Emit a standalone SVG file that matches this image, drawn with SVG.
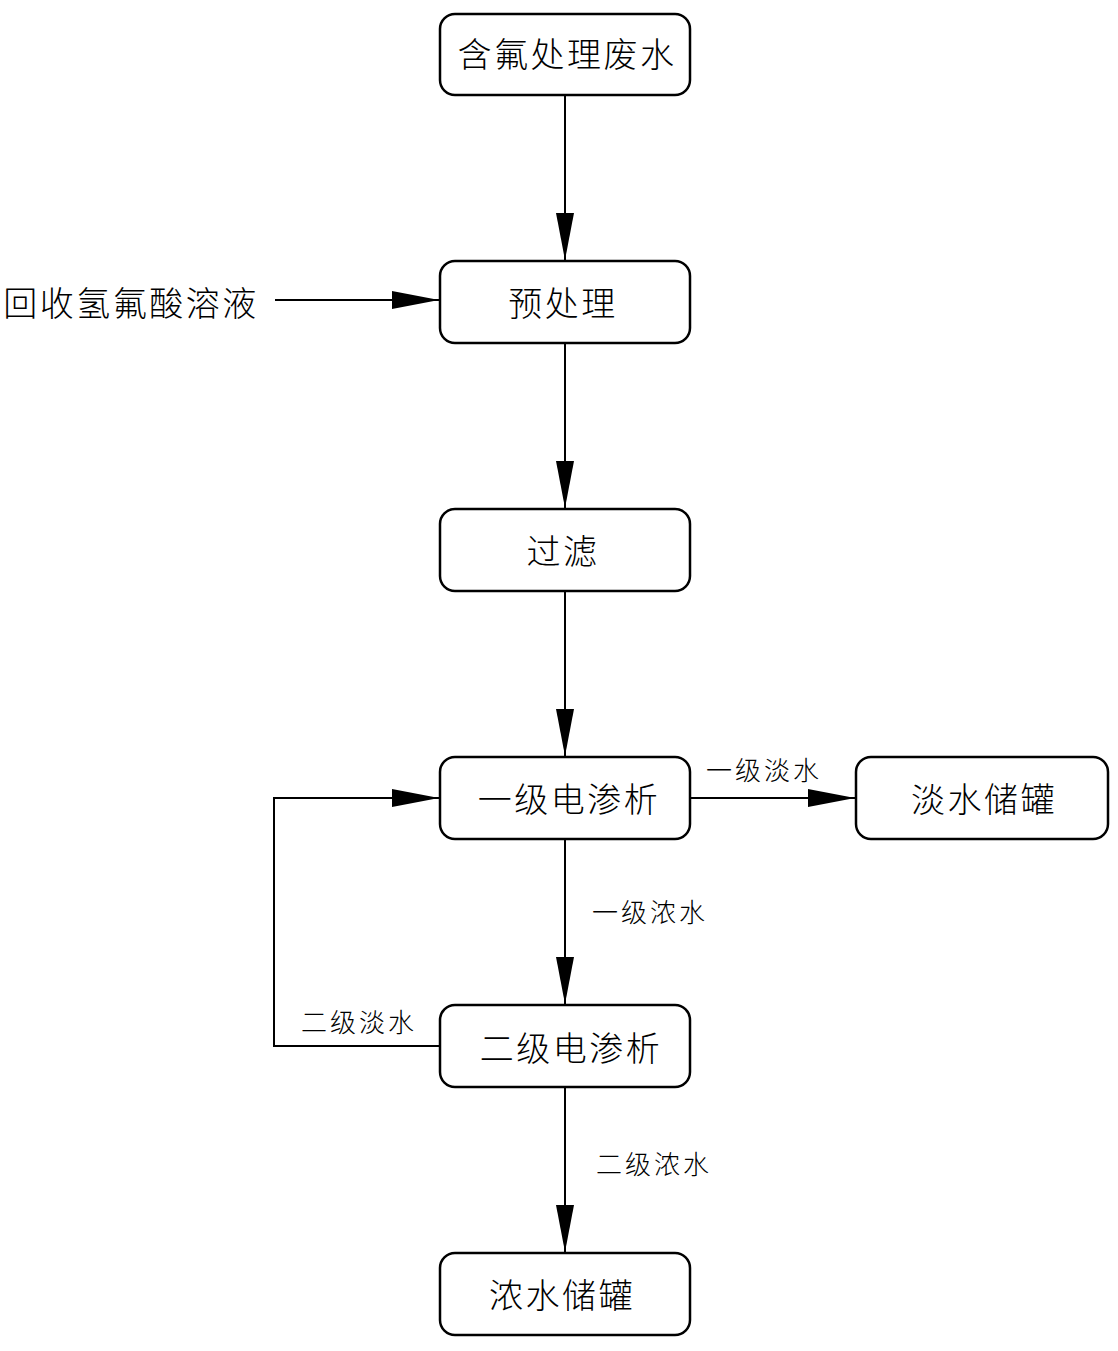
<svg xmlns="http://www.w3.org/2000/svg" width="1118" height="1351" viewBox="0 0 1118 1351">
<style>
.box{fill:#fff;stroke:#000;stroke-width:2.5}
.t{font-family:"Noto Sans CJK SC","Liberation Sans",sans-serif;font-size:34px;font-weight:300;letter-spacing:2.5px;fill:#000;text-anchor:middle;dominant-baseline:central}
.s{font-family:"Noto Sans CJK SC","Liberation Sans",sans-serif;font-size:26px;font-weight:300;letter-spacing:3px;fill:#000;text-anchor:middle;dominant-baseline:central}
.c{fill:none;stroke:#000;stroke-width:2}
</style>
<defs>
<marker id="ah" markerUnits="userSpaceOnUse" markerWidth="48" markerHeight="20" viewBox="0 -10 48 20" refX="47" refY="0" orient="auto">
<path d="M0,-9 L47,0 L0,9 z" fill="#000"/>
</marker>
</defs>
<rect width="1118" height="1351" fill="#fff"/>
<g id="connectors">
<line class="c" x1="565" y1="95" x2="565" y2="260" marker-end="url(#ah)"/>
<line class="c" x1="275" y1="300" x2="439" y2="300" marker-end="url(#ah)"/>
<line class="c" x1="565" y1="343" x2="565" y2="508" marker-end="url(#ah)"/>
<line class="c" x1="565" y1="591" x2="565" y2="756" marker-end="url(#ah)"/>
<line class="c" x1="690" y1="798" x2="855" y2="798" marker-end="url(#ah)"/>
<line class="c" x1="565" y1="839" x2="565" y2="1004" marker-end="url(#ah)"/>
<polyline class="c" points="440,1046 274,1046 274,798 439,798" marker-end="url(#ah)"/>
<line class="c" x1="565" y1="1087" x2="565" y2="1252" marker-end="url(#ah)"/>
<text class="s" x="764" y="768">一级淡水</text>
<text class="s" x="650" y="910">一级浓水</text>
<text class="s" x="359" y="1020">二级淡水</text>
<text class="s" x="654" y="1162">二级浓水</text>
</g>
<g id="n1"><rect class="box" x="440" y="14" width="250" height="81" rx="15"/><text class="t" x="567" y="52">含氟处理废水</text></g>
<g id="n0"><text class="t" x="131" y="301">回收氢氟酸溶液</text></g>
<g id="n2"><rect class="box" x="440" y="261" width="250" height="82" rx="15"/><text class="t" x="563" y="301">预处理</text></g>
<g id="n3"><rect class="box" x="440" y="509" width="250" height="82" rx="15"/><text class="t" x="563" y="549">过滤</text></g>
<g id="n4"><rect class="box" x="440" y="757" width="250" height="82" rx="15"/><text class="t" x="569" y="797">一级电渗析</text></g>
<g id="n5"><rect class="box" x="856" y="757" width="252" height="82" rx="15"/><text class="t" x="984" y="797">淡水储罐</text></g>
<g id="n6"><rect class="box" x="440" y="1005" width="250" height="82" rx="15"/><text class="t" x="571" y="1046">二级电渗析</text></g>
<g id="n7"><rect class="box" x="440" y="1253" width="250" height="82" rx="15"/><text class="t" x="562" y="1293">浓水储罐</text></g>
</svg>
